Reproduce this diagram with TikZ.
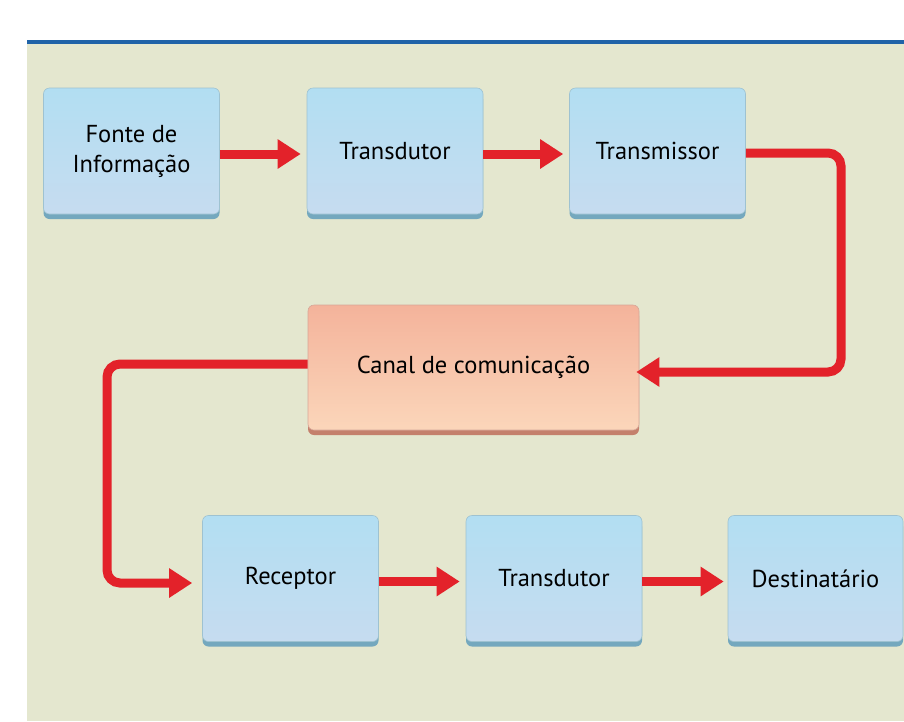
\documentclass[tikz,border=0pt]{standalone}
\usepackage{fontspec}
\setmainfont{PT Sans}
\usetikzlibrary{arrows.meta,shadows}
\definecolor{bgc}{HTML}{E4E7CF}
\definecolor{topline}{HTML}{1F63A8}
\definecolor{bluetop}{HTML}{B2DEF2}
\definecolor{bluebot}{HTML}{C6DCF0}
\definecolor{blueedge}{HTML}{74A8BE}
\definecolor{salmtop}{HTML}{F4B39B}
\definecolor{salmbot}{HTML}{FBD6BA}
\definecolor{salmedge}{HTML}{C4806C}
\definecolor{arrred}{HTML}{E3222A}
\tikzset{
  bluebox/.style={rectangle, rounded corners=6pt, minimum width=176pt, minimum height=126pt,
    top color=bluetop, bottom color=bluebot, draw=blueedge!70, line width=0.6pt,
    general shadow={fill=blueedge, shadow yshift=-5pt},
    font=\fontsize{24.5}{30}\selectfont, align=center, text=black},
  salmbox/.style={rectangle, rounded corners=6pt, minimum width=331pt, minimum height=125pt,
    top color=salmtop, bottom color=salmbot, draw=salmedge!70, line width=0.6pt,
    general shadow={fill=salmedge, shadow yshift=-5pt},
    font=\fontsize{24.5}{30}\selectfont, align=center, text=black},
  flow/.style={draw=arrred, line width=9pt, rounded corners=13pt,
    -{Triangle[length=23pt,width=28pt]}, shorten >=6pt}
}
\begin{document}
\begin{tikzpicture}[x=1pt,y=-1pt]
\useasboundingbox (0,0) rectangle (904,721);
\fill[white] (0,0) rectangle (904,721);
\fill[bgc] (27,43) rectangle (904,721);
\fill[topline] (27,40) rectangle (904,44);
% nodes
\node[bluebox] (f1) at (131.5,151) {Fonte de\\Informação};
\node[bluebox] (t1) at (395,151) {Transdutor};
\node[bluebox] (tx) at (657.5,151) {Transmissor};
\node[salmbox] (cn) at (473.5,367.5) {Canal de comunicação};
\node[bluebox] (rc) at (290.5,578.5) {Receptor};
\node[bluebox] (t2) at (554,578.5) {Transdutor};
\node[bluebox, minimum width=175pt] (ds) at (815.5,578.5) {Destinatário};
% connectors
\coordinate (c1) at (841,153);
\coordinate (c2) at (841,372);
\coordinate (c3) at (107,364);
\coordinate (c4) at (107,583);
\draw[flow] ([yshift=-3pt]f1.east) -- ([yshift=-3pt]t1.west);
\draw[flow] ([yshift=-3pt]t1.east) -- ([yshift=-3pt]tx.west);
\draw[flow, shorten >=-3pt] ([yshift=-2pt]tx.east) -- (c1) -- (c2) -- (cn.east |- c2);
\draw[flow, shorten >=10pt] (cn.west |- c3) -- (c3) -- (c4) -- (rc.west |- c4);
\draw[flow] ([yshift=-3pt]rc.east) -- ([yshift=-3pt]t2.west);
\draw[flow, shorten >=4pt] ([yshift=-3pt]t2.east) -- ([yshift=-3pt]ds.west);
\end{tikzpicture}
\end{document}
